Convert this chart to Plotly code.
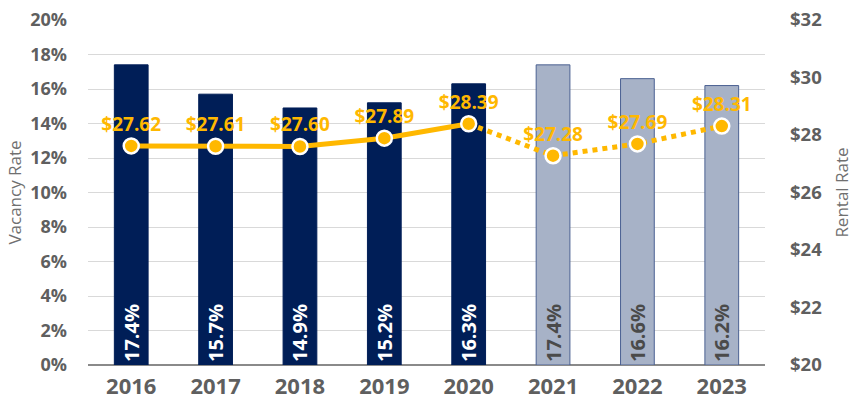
import plotly.graph_objects as go

years = ["2016", "2017", "2018", "2019", "2020", "2021", "2022", "2023"]
vacancy = [17.4, 15.7, 14.9, 15.2, 16.3, 17.4, 16.6, 16.2]
rent = [27.62, 27.61, 27.60, 27.89, 28.39, 27.28, 27.69, 28.31]
n_actual = 5

NAVY = "#001E57"
FORE = "#A7B2C7"
FORE_LINE = "#4B6192"
GOLD = "#FFB800"
GRAY = "#5F5F5F"
FONT = "Open Sans"

bar_colors = [NAVY] * n_actual + [FORE] * (len(years) - n_actual)
bar_lines = [NAVY] * n_actual + [FORE_LINE] * (len(years) - n_actual)
text_colors = ["#FFFFFF"] * n_actual + ["#4A4A4A"] * (len(years) - n_actual)

fig = go.Figure()
fig.add_trace(go.Bar(
    x=years, y=vacancy,
    marker=dict(color=bar_colors, line=dict(color=bar_lines, width=1)),
    text=[f"{v:.1f}%" for v in vacancy],
    textposition="inside", insidetextanchor="start", textangle=-90,
    textfont=dict(family=FONT, size=20, color=text_colors, weight="bold"),
    hoverinfo="skip", showlegend=False,
))
fig.add_trace(go.Scatter(
    x=years[:n_actual], y=rent[:n_actual], yaxis="y2", mode="lines",
    line=dict(color=GOLD, width=5), showlegend=False, hoverinfo="skip",
))
fig.add_trace(go.Scatter(
    x=years[n_actual - 1:], y=rent[n_actual - 1:], yaxis="y2", mode="lines",
    line=dict(color=GOLD, width=5, dash="dot"), showlegend=False, hoverinfo="skip",
))
fig.add_trace(go.Scatter(
    x=years, y=rent, yaxis="y2", mode="markers+text",
    marker=dict(color=GOLD, size=15, line=dict(color="white", width=2.5)),
    text=[f"${v:.2f}" for v in rent], textposition="top center",
    textfont=dict(family=FONT, size=19, color=GOLD, weight="bold"),
    showlegend=False, hoverinfo="skip", cliponaxis=False,
))

fig.update_layout(
    width=853, height=404,
    margin=dict(l=88, r=88, t=20, b=39),
    paper_bgcolor="white", plot_bgcolor="white",
    bargap=0.6,
    font=dict(family=FONT, color=GRAY),
    xaxis=dict(
        tickfont=dict(family=FONT, size=22, color=GRAY, weight="bold"),
        showgrid=False, ticks="", ticklabelstandoff=6, automargin=False,
    ),
    yaxis=dict(
        range=[0, 20], dtick=2, ticksuffix="%",
        tickfont=dict(family=FONT, size=18, color=GRAY, weight="bold"),
        showgrid=True, gridcolor="#D9D9D9", gridwidth=1,
        zeroline=True, zerolinecolor="#8A8A8A", zerolinewidth=1.5,
        ticklabelstandoff=20, automargin=False,
        title=dict(text="Vacancy Rate", font=dict(family=FONT, size=17, color="#707070"), standoff=4),
    ),
    yaxis2=dict(
        range=[20, 32], dtick=2, tickprefix="$", overlaying="y", side="right",
        tickfont=dict(family=FONT, size=18.5, color=GRAY, weight="bold"),
        showgrid=False, zeroline=False, ticklabelstandoff=24, automargin=False,
        title=dict(text="Rental Rate", font=dict(family=FONT, size=17, color="#707070"), standoff=17),
    ),
)

fig.write_html("out.html")
